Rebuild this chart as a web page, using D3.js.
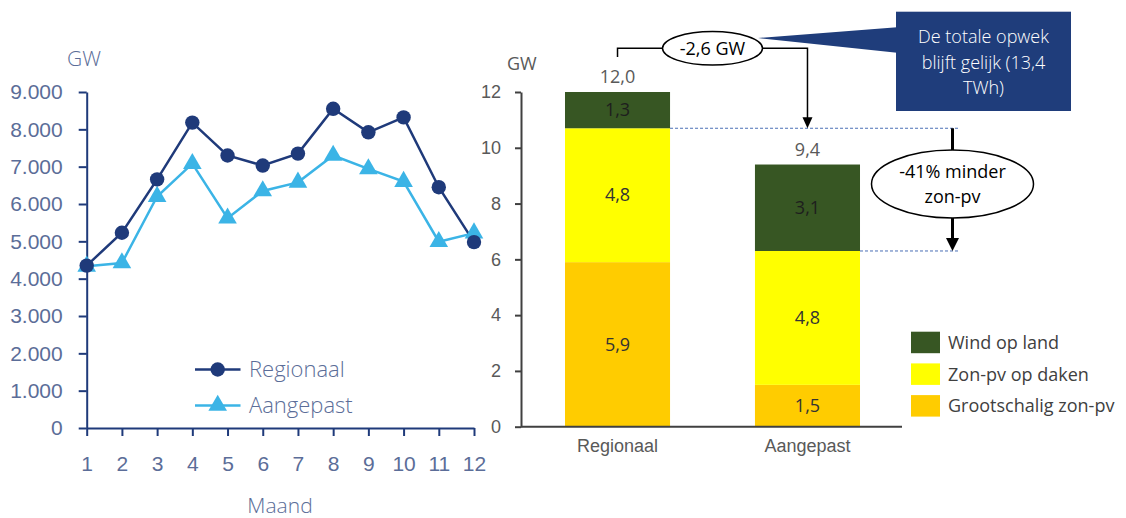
<!DOCTYPE html>
<html><head><meta charset="utf-8">
<script src="https://cdn.jsdelivr.net/npm/d3@7"></script>
<style>
html,body{margin:0;padding:0;background:#fff;}
svg{display:block;font-family:"Open Sans",sans-serif;}
</style></head>
<body><svg id="c" width="1126" height="518"></svg>
<script>
// ---- Data: left chart (monthly) ----
const months = [1,2,3,4,5,6,7,8,9,10,11,12];
const regionaal = [4350,5230,6660,8180,7300,7030,7350,8550,7920,8320,6450,4980];
const aangepast = [4330,4420,6200,7080,5620,6350,6580,7300,6940,6600,4990,5220];
const leftTicks = [0,1000,2000,3000,4000,5000,6000,7000,8000,9000];
const lineSeries = ["Regionaal","Aangepast"];

// ---- Data: right chart (stacked capacity, GW) ----
const scenarios = ["Regionaal","Aangepast"];
const grootschalig = [5.9,1.5];
const zonDaken = [4.8,4.8];
const windLand = [1.3,3.1];
const rightTicks = [0,2,4,6,8,10,12];
const stackKeys = ["Grootschalig zon-pv","Zon-pv op daken","Wind op land"];
const legendOrder = ["Wind op land","Zon-pv op daken","Grootschalig zon-pv"];
const diffLabel = "-2,6 GW";
const pvLabel = ["-41% minder","zon-pv"];
const calloutLines = ["De totale opwek","blijft gelijk (13,4","TWh)"];

const nl = d3.formatLocale({decimal:",",thousands:".",grouping:[3],currency:["€",""]});
const fmtThousands = nl.format(",");
const fmt1 = nl.format(".1f");

const svg = d3.select("#c");

// ================= LEFT CHART =================
const navy = "#1f3a7a", sky = "#3bb4e6", tickCol = "#5b6d98";
const xL = d3.scaleLinear().domain([1,12]).range([86.7,474]);
const yL = d3.scaleLinear().domain([0,9000]).range([428,92]);
const gL = svg.append("g");

const yAxL = gL.append("g").attr("transform","translate(86.7,0)")
  .call(d3.axisLeft(yL).tickValues(leftTicks).tickSize(8).tickSizeOuter(0).tickPadding(16).tickFormat(d=>fmtThousands(d)));
const xAxL = gL.append("g").attr("transform","translate(0,428)")
  .call(d3.axisBottom(xL).tickValues(months).tickSize(8).tickSizeOuter(0).tickPadding(20).tickFormat(d3.format("d")));
[yAxL,xAxL].forEach(a=>{
  a.selectAll("path,line").attr("stroke",navy).attr("stroke-width",2);
  a.selectAll("text").attr("fill",tickCol).attr("font-size",21).attr("font-weight",300);
});
gL.append("text").attr("x",67).attr("y",66).text("GW").attr("fill",tickCol).attr("font-size",21).attr("font-weight",300);
gL.append("text").attr("x",280).attr("y",513).attr("text-anchor","middle").text("Maand").attr("fill",tickCol).attr("font-size",21).attr("font-weight",300);

const lineGen = d3.line().x((d,i)=>xL(months[i])).y(d=>yL(d));
const tri = d3.symbol().type(d3.symbolTriangle).size(150);
gL.append("path").datum(aangepast).attr("d",lineGen).attr("fill","none").attr("stroke",sky).attr("stroke-width",2.5);
gL.append("path").datum(regionaal).attr("d",lineGen).attr("fill","none").attr("stroke",navy).attr("stroke-width",2.5);
gL.selectAll(".tri").data(aangepast).join("path").attr("d",tri)
  .attr("transform",(d,i)=>`translate(${xL(months[i])},${yL(d)})`).attr("fill",sky);
gL.selectAll(".dot").data(regionaal).join("circle")
  .attr("cx",(d,i)=>xL(months[i])).attr("cy",d=>yL(d)).attr("r",7.2).attr("fill",navy);

// legend left
const lgL = gL.append("g");
lineSeries.forEach((name,i)=>{
  const y = 369.5 + i*36;
  const col = i===0?navy:sky;
  lgL.append("line").attr("x1",195).attr("x2",240.5).attr("y1",y).attr("y2",y).attr("stroke",col).attr("stroke-width",2.5);
  if(i===0) lgL.append("circle").attr("cx",217.7).attr("cy",y).attr("r",7.2).attr("fill",col);
  else lgL.append("path").attr("d",tri).attr("transform",`translate(217.7,${y})`).attr("fill",col);
  lgL.append("text").attr("x",249).attr("y",y).attr("dy","0.35em").text(name).attr("fill",tickCol).attr("font-size",22).attr("font-weight",300);
});

// ================= RIGHT CHART =================
const dark = "#404040", grey = "#595959";
const colors = {"Grootschalig zon-pv":"#ffcc00","Zon-pv op daken":"#ffff00","Wind op land":"#375623"};
const xR = d3.scaleBand().domain(scenarios).range([521,904]).paddingInner(0.447).paddingOuter(0.2316);
const yR = d3.scaleLinear().domain([0,12]).range([426.7,92]);
const gR = svg.append("g");

const rows = scenarios.map((s,i)=>({scenario:s,"Grootschalig zon-pv":grootschalig[i],"Zon-pv op daken":zonDaken[i],"Wind op land":windLand[i]}));
const stacked = d3.stack().keys(stackKeys)(rows);

gR.selectAll(".layer").data(stacked).join("g").attr("fill",d=>colors[d.key])
  .selectAll("rect").data(d=>d).join("rect")
  .attr("x",d=>xR(d.data.scenario)).attr("width",xR.bandwidth())
  .attr("y",d=>yR(d[1])).attr("height",d=>yR(d[0])-yR(d[1]));

// segment labels
stacked.forEach(layer=>{
  layer.forEach(d=>{
    gR.append("text").attr("x",xR(d.data.scenario)+xR.bandwidth()/2).attr("y",(yR(d[0])+yR(d[1]))/2)
      .attr("dy","0.35em").attr("text-anchor","middle").attr("font-size",18)
      .attr("fill",layer.key==="Wind op land"?"#1e1e1e":"#333")
      .text(fmt1(d[1]-d[0]));
  });
});
// totals
const totals = scenarios.map((s,i)=>grootschalig[i]+zonDaken[i]+windLand[i]);
scenarios.forEach((s,i)=>{
  gR.append("text").attr("x",xR(s)+xR.bandwidth()/2).attr("y",yR(totals[i])-15).attr("dy","0.35em")
    .attr("text-anchor","middle").attr("font-size",18).attr("fill",grey).text(fmt1(totals[i]));
});

const yAxR = gR.append("g").attr("transform","translate(521,0)")
  .call(d3.axisLeft(yR).tickValues(rightTicks).tickSize(6).tickSizeOuter(0).tickPadding(14).tickFormat(d3.format("d")));
const xAxR = gR.append("g").attr("transform","translate(0,426.7)")
  .call(d3.axisBottom(xR).tickSize(0).tickSizeOuter(0).tickPadding(13));
xAxR.select(".domain").remove();
xAxR.append("line").attr("x1",521).attr("x2",902).attr("stroke",dark).attr("stroke-width",2);
yAxR.selectAll("path,line").attr("stroke",dark).attr("stroke-width",2);
[yAxR,xAxR].forEach(a=>a.selectAll("text").attr("fill",grey).attr("font-size",18));
gR.append("text").attr("x",507).attr("y",70).text("GW").attr("fill",grey).attr("font-size",18);

// dashed guide lines
const topSun = grootschalig.map((v,i)=>v+zonDaken[i]);
scenarios.forEach((s,i)=>{
  gR.append("line").attr("x1",xR(s)+xR.bandwidth()).attr("x2",958).attr("y1",yR(topSun[i])).attr("y2",yR(topSun[i]))
    .attr("stroke","#4a6fb5").attr("stroke-width",1).attr("stroke-dasharray","3,2");
});

// bracket -2,6 GW
const cxA = xR("Regionaal")+xR.bandwidth()/2, cxB = xR("Aangepast")+xR.bandwidth()/2;
const by = 48.3, ecx = 712.5;
gR.append("path").attr("d",`M${cxA},${yR(totals[0])-35}V${by}H${ecx-50}M${ecx+50},${by}H${cxB}V${yR(topSun[0])-10}`)
  .attr("fill","none").attr("stroke","#000").attr("stroke-width",1.5);
gR.append("path").attr("d",`M${cxB-5},${yR(topSun[0])-11}L${cxB+5},${yR(topSun[0])-11}L${cxB},${yR(topSun[0])}Z`).attr("fill","#000");

// callout box with pointer
const callCol = "#1f3d7b";
gR.append("path").attr("d",`M758,38L897,27.3L897,52.7Z`).attr("fill",callCol);
gR.append("rect").attr("x",896).attr("y",11.7).attr("width",175).attr("height",99.3).attr("fill",callCol);
calloutLines.forEach((t,i)=>{
  gR.append("text").attr("x",983.5).attr("y",37+i*25.5).attr("dy","0.35em").attr("text-anchor","middle")
    .attr("fill","#fff").attr("font-size",18).attr("font-weight",300).text(t);
});
gR.append("ellipse").attr("cx",ecx).attr("cy",by).attr("rx",50).attr("ry",16.7).attr("fill","#fff").attr("stroke","#000").attr("stroke-width",1.5);
gR.append("text").attr("x",ecx).attr("y",by).attr("dy","0.35em").attr("text-anchor","middle").attr("font-size",18).attr("fill","#000").text(diffLabel);

// thick arrow -41%
const ax = 952.5, ey = 184;
gR.append("line").attr("x1",ax).attr("x2",ax).attr("y1",yR(topSun[0])).attr("y2",yR(topSun[1])-12).attr("stroke","#000").attr("stroke-width",3);
gR.append("path").attr("d",`M${ax-6.5},${yR(topSun[1])-13}L${ax+6.5},${yR(topSun[1])-13}L${ax},${yR(topSun[1])}Z`).attr("fill","#000");
gR.append("ellipse").attr("cx",ax).attr("cy",ey).attr("rx",81).attr("ry",34).attr("fill","#fff").attr("stroke","#000").attr("stroke-width",1.5);
pvLabel.forEach((t,i)=>{
  gR.append("text").attr("x",ax).attr("y",ey-12+i*25).attr("dy","0.35em").attr("text-anchor","middle").attr("font-size",18).attr("fill","#000").text(t);
});

// legend right
legendOrder.forEach((k,i)=>{
  const y0 = 331.7 + i*31.7;
  gR.append("rect").attr("x",911).attr("y",y0).attr("width",29).attr("height",21.5).attr("fill",colors[k]);
  gR.append("text").attr("x",948).attr("y",y0+11).attr("dy","0.35em").attr("font-size",18).attr("fill",dark).text(k);
});
</script></body></html>
